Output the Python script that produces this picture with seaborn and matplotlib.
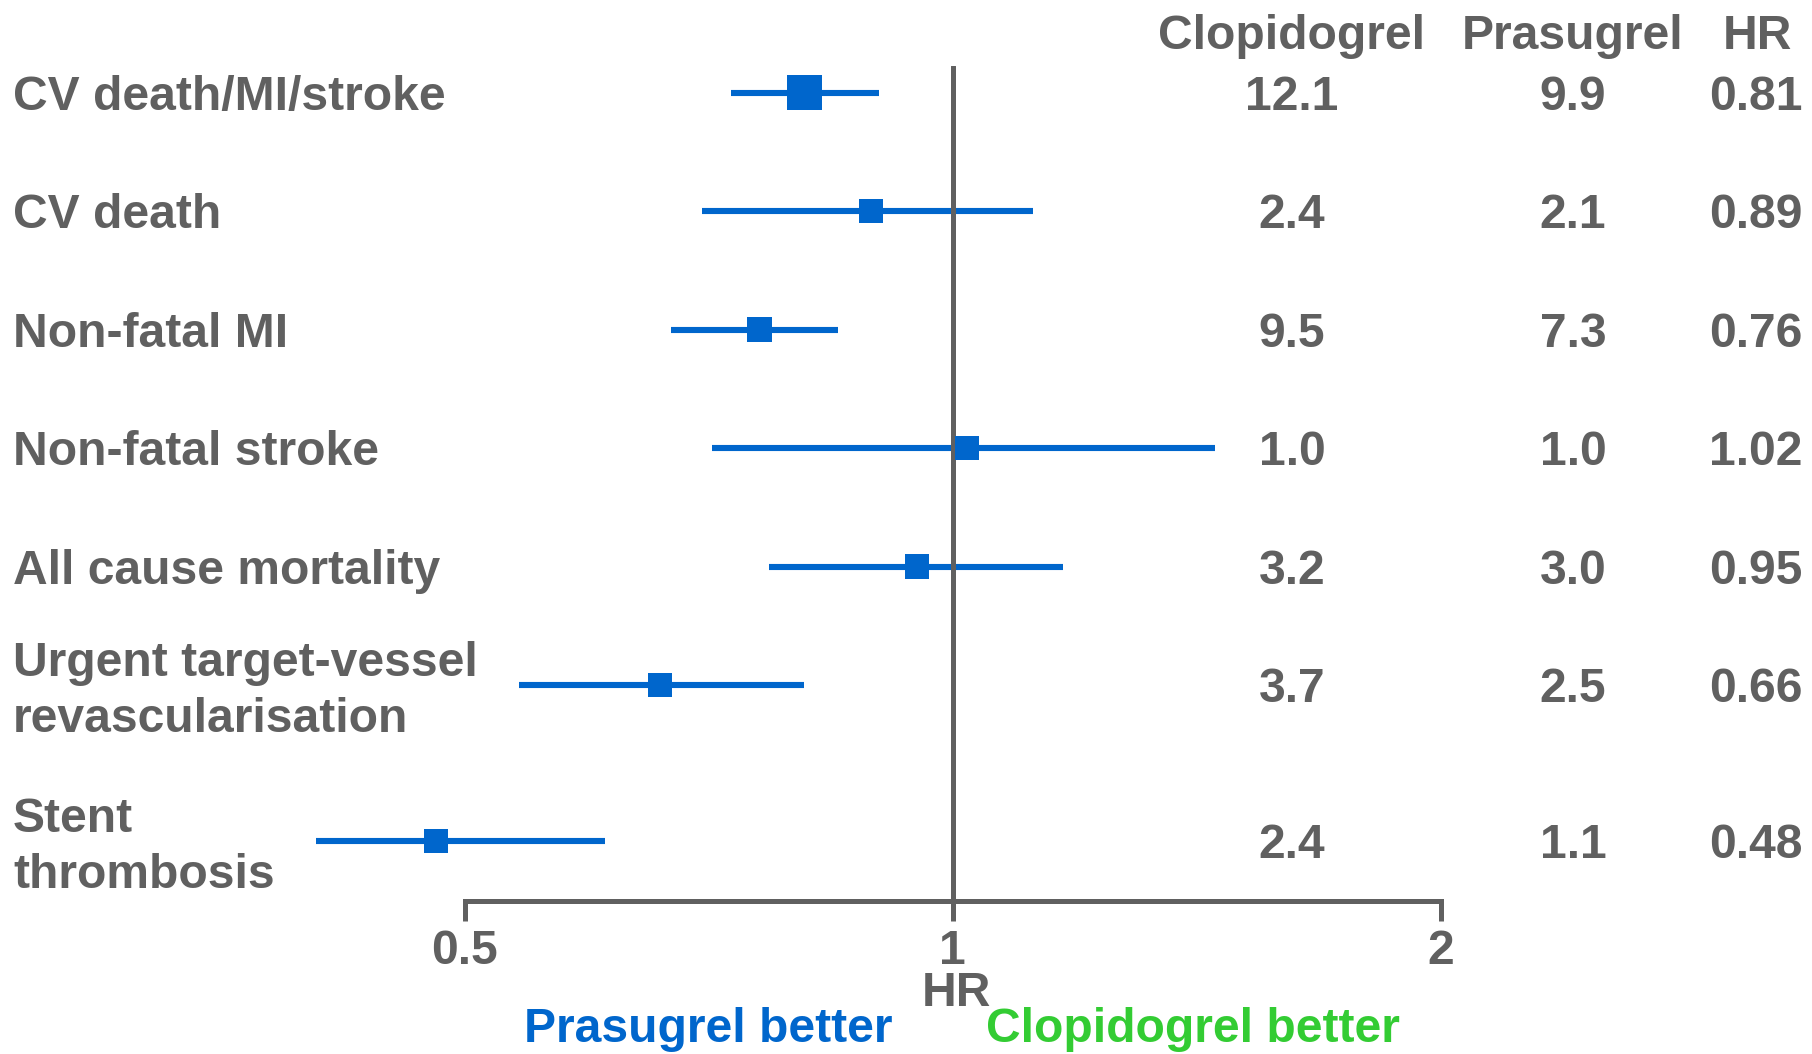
import numpy as np
import pandas as pd
import matplotlib
matplotlib.use("Agg")
import matplotlib.pyplot as plt
from matplotlib.ticker import NullLocator, FixedLocator, FixedFormatter
import seaborn as sns

# ---- data ----
outcomes = [
    "CV death/MI/stroke",
    "CV death",
    "Non-fatal MI",
    "Non-fatal stroke",
    "All cause mortality",
    "Urgent target-vessel\nrevascularisation",
    "Stent\nthrombosis",
]
hr = [0.81, 0.89, 0.76, 1.02, 0.95, 0.66, 0.48]
ci_low = [0.73, 0.70, 0.67, 0.71, 0.77, 0.54, 0.405]
ci_high = [0.90, 1.12, 0.85, 1.45, 1.17, 0.81, 0.61]
clopidogrel_rate = ["12.1", "2.4", "9.5", "1.0", "3.2", "3.7", "2.4"]
prasugrel_rate = ["9.9", "2.1", "7.3", "1.0", "3.0", "2.5", "1.1"]
hr_text = ["0.81", "0.89", "0.76", "1.02", "0.95", "0.66", "0.48"]
marker_class = ["primary", "other", "other", "other", "other", "other", "other"]
x_ticks = [0.5, 1, 2]
x_tick_labels = ["0.5", "1", "2"]

# ---- layout / style ----
row_pos = [0, 1, 2, 3, 4, 5, 6.32]
GREY = "#606060"
BLUE = "#0066CC"
GREEN = "#33CC33"
FS = 34.6
W, H = 1812, 1054

sns.set_theme(style="white")
plt.rcParams["font.family"] = ["Liberation Sans", "DejaVu Sans"]
plt.rcParams["font.weight"] = "bold"

df = pd.DataFrame({
    "outcome": outcomes, "hr": hr, "lo": ci_low, "hi": ci_high,
    "pos": row_pos, "cls": marker_class,
})

fig = plt.figure(figsize=(W / 100, H / 100), dpi=100)
ax = fig.add_axes([464.6 / W, 1 - 901 / H, (1441 - 464.6) / W, (901 - 66) / H])

ax.set_xscale("log", base=2)
ax.set_xlim(0.5, 2)
ax.set_ylim(6.823, -0.224)

# confidence intervals
ax.hlines(df["pos"], df["lo"], df["hi"], color=BLUE, lw=4.4, zorder=2,
          clip_on=False)
# line of no effect
ax.axvline(1, color=GREY, lw=3.6, zorder=2.5)
# point estimates
sns.scatterplot(data=df, x="hr", y="pos", size="cls",
                sizes={"primary": 625, "other": 300}, marker="s",
                color=BLUE, linewidth=0, legend=False, zorder=3,
                clip_on=False, ax=ax)

# axes styling
for side in ["left", "right", "top"]:
    ax.spines[side].set_visible(False)
ax.spines["bottom"].set_color(GREY)
ax.spines["bottom"].set_linewidth(3.6)
ax.xaxis.set_major_locator(FixedLocator(x_ticks))
ax.xaxis.set_major_formatter(FixedFormatter(x_tick_labels))
ax.xaxis.set_minor_locator(NullLocator())
ax.tick_params(axis="x", direction="out", length=14.4, width=3.6,
               color=GREY, labelcolor=GREY, labelsize=FS, pad=6,
               bottom=True)
ax.set_yticks([])
ax.set_xlabel("")
ax.set_ylabel("")
for lab in ax.get_xticklabels():
    lab.set_fontweight("bold")

# row labels (left) and table columns (right)
def put(text, x_px, pos, dy_px, ha="left", color=GREY):
    ax.annotate(text, xy=(x_px, pos), xycoords=("figure pixels", "data"),
                xytext=(0, -dy_px * 0.72), textcoords="offset points",
                ha=ha, va="baseline", fontsize=FS, fontweight="bold",
                color=color, annotation_clip=False)

for name, p in zip(outcomes, row_pos):
    lines = name.split("\n")
    if len(lines) == 1:
        put(lines[0], 13, p, 17)
    else:
        put(lines[0], 13, p, -9)
        put(lines[1], 13, p, 47)

for c, pr, h, p in zip(clopidogrel_rate, prasugrel_rate, hr_text, row_pos):
    put(c, 1292, p, 17, ha="center")
    put(pr, 1573, p, 17, ha="center")
    put(h, 1756, p, 17, ha="center")

# column headers
for txt, xc in [("Clopidogrel", 1292), ("Prasugrel", 1573), ("HR", 1757)]:
    fig.text(xc / W, 1 - 49 / H, txt, ha="center", va="baseline",
             fontsize=FS, fontweight="bold", color=GREY)

# axis title and direction labels
fig.text(956 / W, 1 - 1006 / H, "HR", ha="center", va="baseline",
         fontsize=FS, fontweight="bold", color=GREY)
fig.text(708 / W, 1 - 1042 / H, "Prasugrel better", ha="center",
         va="baseline", fontsize=FS, fontweight="bold", color=BLUE)
fig.text(1193 / W, 1 - 1042 / H, "Clopidogrel better", ha="center",
         va="baseline", fontsize=FS, fontweight="bold", color=GREEN)

fig.savefig("out.png", dpi=100, facecolor="white")
